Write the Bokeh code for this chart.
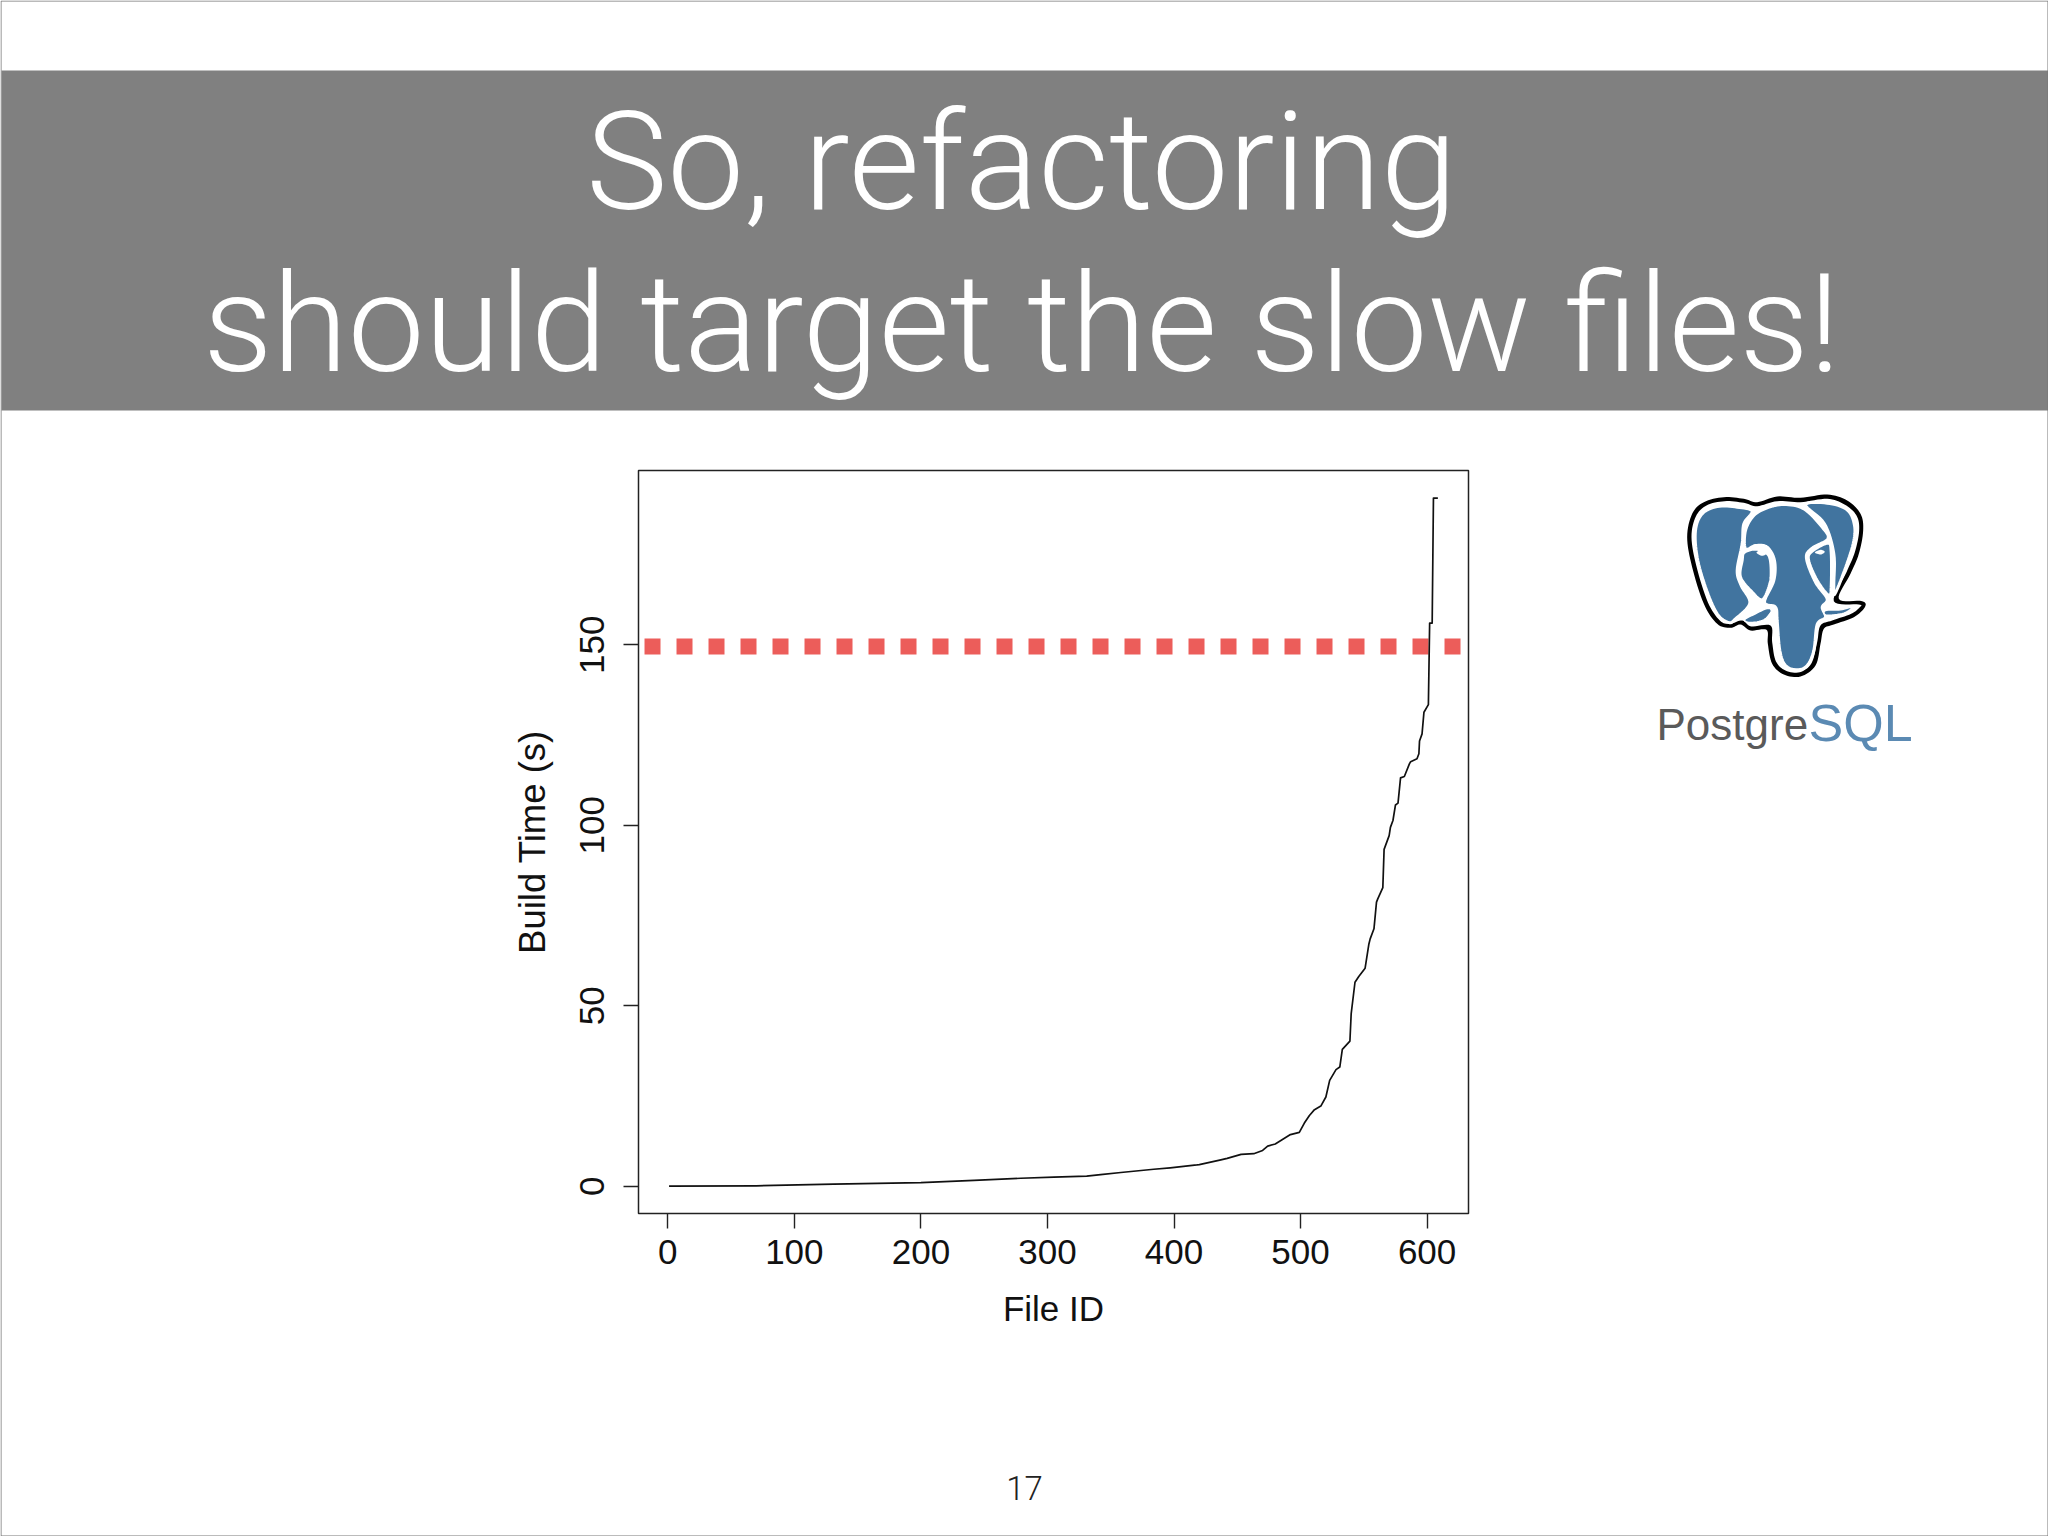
from bokeh.plotting import figure
from bokeh.models import Range1d, FixedTicker
from bokeh.core.properties import value
from bokeh.embed import file_html
from bokeh.resources import INLINE

# ---- chart data ----
file_id = [1, 70, 131, 200, 242, 279, 305, 331, 342, 358, 384, 397, 418, 420, 437, 442, 453, 463, 470, 474, 480, 492, 499,
           503, 507, 511, 516, 520, 523, 528, 531, 533, 539, 540, 543, 546, 551, 554, 555, 558, 560, 561, 565,
           566, 570, 571, 573, 575, 577, 579, 582, 586, 587, 592, 593.5, 594, 596, 597.5, 601, 602, 604, 605, 608.5]
build_time = [0, 0.1, 0.6, 1.0, 1.6, 2.2, 2.5, 2.8, 3.2, 3.8, 4.7, 5.1, 5.9, 6.0, 7.3, 7.7, 8.8, 9.0, 9.9, 11.1, 11.7, 14.3, 14.9,
              17.5, 19.6, 21.2, 22.2, 24.7, 29.3, 32.3, 33.0, 37.9, 40.2, 47.8, 56.5, 58.1, 60.4, 67.1, 68.5, 71.3, 78.7, 79.6, 82.7,
              93.3, 97.1, 99.4, 101.3, 105.6, 106.1, 113.1, 113.5, 117.0, 117.6, 118.4, 119.8, 123.3, 125.3, 131.3, 133.4, 156.0, 156.0, 190.6, 190.6]
threshold_x = [-18.4, 626.4]
threshold_y = [149.5, 149.5]
x_ticks = [0, 100, 200, 300, 400, 500, 600]
y_ticks = [0, 50, 100, 150]
title_lines = ["So, refactoring", "should target the slow files!"]
x_title = "File ID"
y_title = "Build Time (s)"
page_number = "17"

# ---- page geometry (slide pixels) ----
W, H = 2048, 1536
FL, FR, FT, FB = 638, 1468, 470, 1213
SANS = "Liberation Sans"
LIGHT = "Roboto Light"
PIN = {"position": "absolute", "left": "0px", "top": "0px"}

# ---- slide layer: banner, titles, logo, page number ----
bg = figure(width=W, height=H, output_backend="svg", toolbar_location=None,
            x_range=Range1d(0, W), y_range=Range1d(H, 0), min_border=0,
            x_axis_location=None, y_axis_location=None, background_fill_color="white", border_fill_color="white")
bg.styles = PIN
bg.grid.visible = False
bg.outline_line_color = None


def smooth(pts, n=8):
    out = []
    m = len(pts)
    for i in range(m):
        p0, p1, p2, p3 = pts[i - 1], pts[i], pts[(i + 1) % m], pts[(i + 2) % m]
        for k in range(n):
            t = k / n
            out.append(tuple(0.5 * (2 * p1[c] + (p2[c] - p0[c]) * t + (2 * p0[c] - 5 * p1[c] + 4 * p2[c] - p3[c]) * t * t
                                    + (3 * p1[c] - p0[c] - 3 * p2[c] + p3[c]) * t ** 3) for c in (0, 1)))
    return out


def label(text, X, Y, size, color, font, align="center"):
    # the page renders this baseline about 0.36 em low; Y is the wanted baseline
    bg.text([X], [Y - 0.36 * size], text=[text], text_font=value(font), text_font_size=f"{size}px", text_color=color,
            text_align=align, text_baseline="alphabetic")


bg.patch([1, W, W, 1], [70, 70, 410, 410], fill_color="#808080", line_color=None)
bg.line([0.5, W - 0.5, W - 0.5, 0.5, 0.5], [0.5, 0.5, H - 0.5, H - 0.5, 0.5], line_color="#777777", line_width=1)
label(title_lines[0], 1021, 211, 137, "white", LIGHT)
label(title_lines[1], 1021, 373, 137, "white", LIGHT)
label(page_number, 1024, 1499, 33, "#222222", LIGHT)


def logo(zoom_pts, fill, line=None, lw=0):
    pts = smooth([(1620 + x / 3, 470 + y / 3) for x, y in zoom_pts])
    bg.patch([q[0] for q in pts], [q[1] for q in pts], fill_color=fill, line_color=line, line_width=lw)


BLUE = "#41749F"
outer = [(410, 95), (470, 78), (540, 82), (620, 72), (680, 90), (720, 130), (728, 180), (715, 250), (690, 310), (655, 385),
         (725, 392), (733, 410), (700, 440), (640, 462), (610, 475), (600, 520), (585, 585), (540, 618), (490, 612),
         (455, 580), (442, 520), (438, 478), (390, 480), (360, 462), (330, 472), (290, 460), (250, 400), (215, 290),
         (200, 200), (215, 130), (250, 95), (310, 80), (370, 85)]
inner = [(410, 107), (470, 92), (540, 95), (620, 85), (672, 102), (708, 135), (716, 180), (703, 245), (678, 305), (640, 392),
         (715, 402), (718, 410), (692, 430), (635, 450), (600, 465), (590, 515), (573, 578), (538, 605), (495, 600),
         (466, 572), (455, 515), (450, 465), (392, 468), (365, 450), (328, 460), (298, 450), (262, 395), (228, 288),
         (213, 200), (226, 138), (258, 105), (312, 92), (370, 97)]
logo(outer, "black")
logo(inner, "white")
left_ear = [(395, 122), (350, 110), (290, 108), (245, 130), (225, 180), (230, 260), (255, 350), (290, 430), (325, 456),
            (345, 445), (388, 398), (362, 345), (350, 300), (365, 220), (370, 160)]
right_ear = [(555, 103), (620, 98), (680, 118), (702, 165), (698, 220), (672, 300), (642, 372), (640, 340), (640, 250), (612, 160)]
head = [(490, 102), (550, 115), (605, 170), (622, 205), (572, 235), (558, 265), (585, 335), (620, 385), (605, 410),
        (615, 440), (590, 462), (580, 540), (560, 585), (530, 598), (495, 585), (478, 540), (470, 450), (465, 410),
        (432, 395), (460, 330), (462, 270), (440, 230), (405, 225), (375, 235), (375, 180), (400, 135), (440, 112)]
left_eye = [(372, 245), (410, 236), (445, 255), (452, 310), (445, 350), (425, 388), (395, 365), (360, 320), (365, 270)]
right_eye = [(575, 242), (622, 218), (632, 245), (632, 350), (625, 375), (590, 330), (564, 268)]
left_tusk = [(372, 448), (400, 432), (440, 414), (452, 422), (430, 448), (390, 456)]
right_tusk = [(615, 420), (660, 418), (695, 410), (670, 428), (618, 434)]
for shape in (left_ear, right_ear, head, left_eye, right_eye):
    logo(shape, BLUE, "white", 3)
for shape in (left_tusk, right_tusk):
    logo(shape, BLUE, "white", 1.5)
logo([(408, 246), (425, 238), (440, 247), (425, 256)], "white")
logo([(583, 246), (600, 238), (613, 244), (600, 252)], "white")
label("Postgre", 1656, 740, 44, "#5A5A5A", SANS, "left")
label("SQL", 1808, 741, 52, "#5B8AB3", SANS, "left")

# ---- chart layer, transparent, on top ----
p = figure(width=W, height=H, output_backend="svg", toolbar_location=None,
           x_range=Range1d(-23.15, 632.7), y_range=Range1d(-7.56, 198.25),
           min_border_left=FL, min_border_right=W - FR, min_border_top=FT, min_border_bottom=H - FB,
           background_fill_color=None, border_fill_color=None)
p.styles = PIN
p.grid.visible = False
p.outline_line_color = "#222222"
p.outline_line_width = 1.5

for ax, ticks, title in ((p.xaxis[0], x_ticks, x_title), (p.yaxis[0], y_ticks, y_title)):
    ax.ticker = FixedTicker(ticks=ticks)
    ax.axis_label = title
    ax.axis_label_text_font = SANS
    ax.axis_label_text_font_size = "35px"
    ax.axis_label_text_font_style = "normal"
    ax.axis_label_text_color = "#111111"
    ax.major_label_text_font = SANS
    ax.major_label_text_font_size = "35px"
    ax.major_label_text_color = "#111111"
    ax.axis_line_color = None
    ax.major_tick_line_color = "#222222"
    ax.major_tick_line_width = 1.4
    ax.major_tick_in = 0
    ax.major_tick_out = 15
    ax.minor_tick_line_color = None
p.xaxis[0].major_label_standoff = 11
p.xaxis[0].axis_label_standoff = 22
p.yaxis[0].major_label_orientation = "vertical"
p.yaxis[0].major_label_standoff = 19
p.yaxis[0].axis_label_standoff = 25
p.yaxis[0].axis_label_text_font_size = "36.5px"

p.line(threshold_x, threshold_y, line_color="#EC5D5A", line_width=16, line_dash="16 16", line_cap="butt")
p.line(file_id, build_time, line_color="#111111", line_width=1.7, line_join="round")

open("out.html", "w").write(file_html((bg, p), INLINE))
